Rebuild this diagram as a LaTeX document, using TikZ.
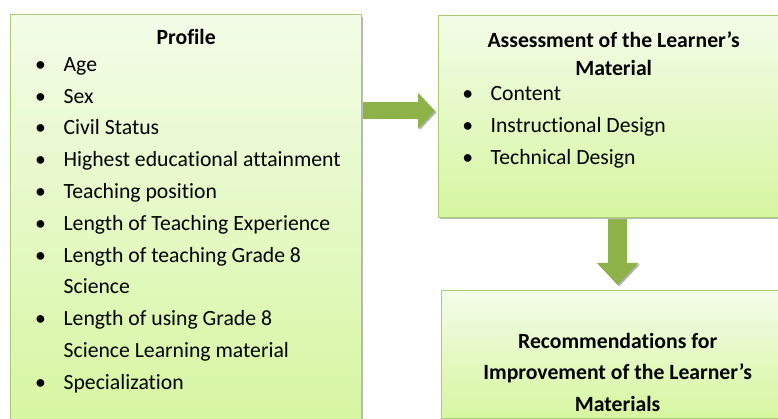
\documentclass[tikz,border=0pt]{standalone}
\usepackage{fontspec}
\setmainfont[Ligatures=NoCommon]{Carlito}
\usetikzlibrary{arrows.meta, shadows}

\definecolor{boxtop}{RGB}{243,252,232}
\definecolor{boxbot}{RGB}{214,246,160}
\definecolor{boxline}{RGB}{168,204,112}
\definecolor{arrowgreen}{RGB}{140,178,72}

% one bullet line, wrapped lines hang under the text
\newcommand{\bitem}[1]{\par\hangindent=23pt\hangafter=1\noindent
  \makebox[0pt]{\textbullet}\hspace*{23pt}#1}

\begin{document}
\begin{tikzpicture} [
  x=1pt,
  y=1pt,
  box/.style={draw=boxline, line width=1.3pt, top color=boxtop, bottom color=boxbot,
    inner sep=0pt, anchor=north west, font=\fontsize{21.7pt}{31.8pt}\selectfont,
    drop shadow={shadow xshift=1.5pt, shadow yshift=-2pt, fill=black!45, opacity=.6}},
  bigarrow/.style={draw=arrowgreen,
    preaction={draw=black!30, transform canvas={shift={(1.5pt,-1.5pt)}}}}
  ]
  \useasboundingbox (0,0) rectangle (778,-419);
  \clip (0,0) rectangle (778,-419);

  \node(profile)[box, at={(10,-14)}]{\begin{minipage}{351pt}
    \vspace*{14.6pt}
    {\centering\bfseries Profile\par}
    \vspace{-5pt}
    \leftskip=30pt
    \bitem{Age}
    \bitem{Sex}
    \bitem{Civil Status}
    \bitem{Highest educational attainment}
    \bitem{Teaching position}
    \bitem{Length of Teaching Experience}
    \bitem{Length of teaching Grade 8\newline Science}
    \bitem{Length of using Grade 8\newline Science Learning material}
    \bitem{Specialization}\par
    \vspace*{36pt}
  \end{minipage}};

  \node(assess)[box, at={(438,-15)}]{\begin{minipage}{350pt}
    \vspace*{15.6pt}
    {\centering\bfseries\baselineskip=28pt Assessment of the Learner’s\\ Material\par}
    \vspace{-6pt}
    \leftskip=29pt
    \bitem{Content}
    \bitem{Instructional Design}
    \bitem{Technical Design}\par
    \vspace*{49pt}
  \end{minipage}};

  \node(rec)[box, at={(441,-290)}]{\begin{minipage}{352pt}
    \vspace*{42.6pt}
    {\centering\bfseries\baselineskip=31.5pt Recommendations for\\
      Improvement of the Learner’s\\ Materials\par}
    \vspace*{7pt}
  \end{minipage}};

  \coordinate(arrowin) at ([yshift=5.5pt]assess.west);

  \draw[bigarrow, line width=17pt, -{Triangle[length=17pt, width=35pt]},
    shorten <=1pt, shorten >=3pt] (arrowin -| profile.east) -- (arrowin);
  \draw[bigarrow, line width=19pt, -{Triangle[length=22pt, width=40pt]},
    shorten <=1pt, shorten >=5pt] (assess.south -| rec.north) -- (rec.north);
\end{tikzpicture}
\end{document}
